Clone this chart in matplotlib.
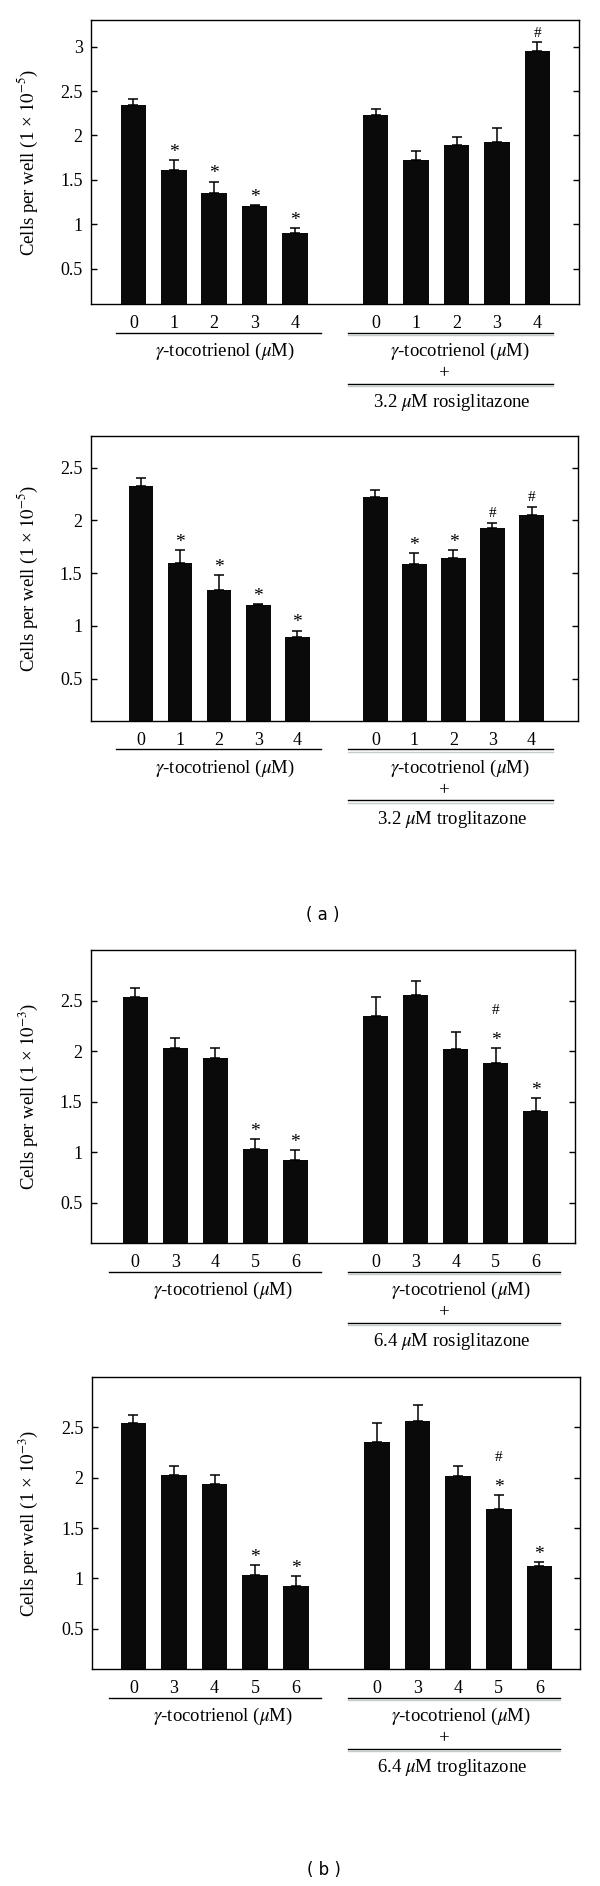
import numpy as np
import matplotlib.pyplot as plt
from matplotlib.lines import Line2D

plt.rcParams['font.family'] = ['Liberation Serif', 'DejaVu Serif']
plt.rcParams['mathtext.fontset'] = 'stix'

# ---- data ----
# (a) top: gamma-tocotrienol alone vs + 3.2 uM rosiglitazone
p1_doses = ['0', '1', '2', '3', '4']
p1_toco = [2.34, 1.605, 1.35, 1.20, 0.895]
p1_toco_err = [0.07, 0.115, 0.13, 0.01, 0.06]
p1_toco_sig = ['', '*', '*', '*', '*']
p1_combo = [2.23, 1.72, 1.89, 1.92, 2.95]
p1_combo_err = [0.07, 0.10, 0.09, 0.16, 0.10]
p1_combo_sig = ['', '', '', '', '#']
p1_yticks = [0.5, 1, 1.5, 2, 2.5, 3]

# (a) bottom: + 3.2 uM troglitazone
p2_doses = ['0', '1', '2', '3', '4']
p2_toco = [2.33, 1.60, 1.34, 1.20, 0.89]
p2_toco_err = [0.07, 0.115, 0.14, 0.005, 0.065]
p2_toco_sig = ['', '*', '*', '*', '*']
p2_combo = [2.22, 1.585, 1.64, 1.93, 2.05]
p2_combo_err = [0.07, 0.105, 0.075, 0.045, 0.08]
p2_combo_sig = ['', '*', '*', '#', '#']
p2_yticks = [0.5, 1, 1.5, 2, 2.5]

# (b) top: + 6.4 uM rosiglitazone
p3_doses = ['0', '3', '4', '5', '6']
p3_toco = [2.54, 2.03, 1.935, 1.03, 0.92]
p3_toco_err = [0.085, 0.095, 0.095, 0.10, 0.105]
p3_toco_sig = ['', '', '', '*', '*']
p3_combo = [2.35, 2.56, 2.025, 1.887, 1.408]
p3_combo_err = [0.19, 0.13, 0.165, 0.14, 0.13]
p3_combo_sig = ['', '', '', '*#', '*']
p3_yticks = [0.5, 1, 1.5, 2, 2.5]

# (b) bottom: + 6.4 uM troglitazone
p4_doses = ['0', '3', '4', '5', '6']
p4_toco = [2.54, 2.03, 1.94, 1.03, 0.925]
p4_toco_err = [0.08, 0.09, 0.09, 0.10, 0.10]
p4_toco_sig = ['', '', '', '*', '*']
p4_combo = [2.35, 2.56, 2.02, 1.69, 1.12]
p4_combo_err = [0.19, 0.16, 0.10, 0.14, 0.045]
p4_combo_sig = ['', '', '', '*#', '*']
p4_yticks = [0.5, 1, 1.5, 2, 2.5]

W, H = 600, 1886
fig = plt.figure(figsize=(6, 18.86), dpi=100)

# symbol size and baseline offset (points) above the error bar
SIG_STYLE = {'*': (14, 2.3), '#': (11, 4.0)}


def fig_line(x0, x1, y, color='black', lw=1.0):
    fig.add_artist(Line2D([x0 / W, x1 / W], [1 - y / H, 1 - y / H], color=color, lw=lw))


def fig_label(x, y, s, **kw):
    fig.text(x / W, 1 - y / H, s, ha='center', va='center', **kw)


def panel(box, xlim, ylim, yticks, doses, toco, toco_err, toco_sig,
          combo, combo_err, combo_sig, exponent, drug, g1, g2):
    left, top, right, bottom = box
    ax = fig.add_axes([left / W, 1 - bottom / H, (right - left) / W, (bottom - top) / H])
    x1 = np.arange(len(toco))
    x2 = x1 + 6
    for x, v, e, sig in [(x1, toco, toco_err, toco_sig), (x2, combo, combo_err, combo_sig)]:
        ax.bar(x, v, width=0.63, color='#0a0a0a')
        ax.errorbar(x, v, yerr=[np.zeros(len(v)), e], fmt='none', ecolor='black',
                    elinewidth=1.1, capsize=3.9, capthick=1.1)
        for xi, vi, ei, s in zip(x, v, e, sig):
            for k, ch in enumerate(s):
                size, off = SIG_STYLE[ch]
                ax.annotate(ch, (xi, vi + ei), xytext=(0, off + 20.5 * k),
                            textcoords='offset points', ha='center', va='baseline',
                            fontsize=size)
    ax.set_xlim(*xlim)
    ax.set_ylim(*ylim)
    ax.set_xticks(np.concatenate([x1, x2]), doses + doses)
    ax.tick_params(axis='x', length=0, pad=8, labelsize=13)
    ax.set_yticks(yticks, [f'{t:g}' for t in yticks])
    ax.tick_params(axis='y', direction='in', left=True, right=True, length=4.5,
                   width=1, labelsize=13, pad=6)
    for sp in ax.spines.values():
        sp.set_linewidth(1.0)
    ax.set_ylabel('Cells per well (1 × $10^{-%d}$)' % exponent, fontsize=13.5)
    ax.yaxis.set_label_coords((40 - left) / (right - left), 0.5)

    # group labels under the axes
    fig_line(g1[0], g1[1], bottom + 28.5)
    fig_line(g2[0], g2[1], bottom + 28.5)
    fig_line(g2[0], g2[1], bottom + 30.8, color='#c5cccc', lw=1.0)
    fig_label(g1[2], bottom + 47.5, r'$\gamma$-tocotrienol ($\mu$M)', fontsize=13.5)
    fig_label(g2[2], bottom + 47.5, r'$\gamma$-tocotrienol ($\mu$M)', fontsize=13.5)
    fig_label(444, bottom + 69.5, '+', fontsize=13.5)
    fig_line(g2[0], g2[1], bottom + 79.5)
    fig_line(g2[0], g2[1], bottom + 81.8, color='#c5cccc', lw=1.0)
    fig_label(452, bottom + 98.5, drug, fontsize=13.5)
    return ax


panel((91, 20, 578.5, 304), (-1.05, 11.02), (0.1, 3.3), p1_yticks, p1_doses,
      p1_toco, p1_toco_err, p1_toco_sig, p1_combo, p1_combo_err, p1_combo_sig,
      5, r'3.2 $\mu$M rosiglitazone', (116, 320.5, 225), (347.5, 552.5, 460))
panel((90.7, 436, 578, 720.7), (-1.29, 11.19), (0.1, 2.8), p2_yticks, p2_doses,
      p2_toco, p2_toco_err, p2_toco_sig, p2_combo, p2_combo_err, p2_combo_sig,
      5, r'3.2 $\mu$M troglitazone', (116, 320.5, 225), (347.5, 552.5, 460))
panel((90.7, 950, 575.4, 1243.3), (-1.11, 10.99), (0.1, 3.0), p3_yticks, p3_doses,
      p3_toco, p3_toco_err, p3_toco_sig, p3_combo, p3_combo_err, p3_combo_sig,
      3, r'6.4 $\mu$M rosiglitazone', (108.5, 320.5, 223), (348, 560, 461))
panel((92, 1377, 580, 1669), (-1.02, 11.0), (0.1, 3.0), p4_yticks, p4_doses,
      p4_toco, p4_toco_err, p4_toco_sig, p4_combo, p4_combo_err, p4_combo_sig,
      3, r'6.4 $\mu$M troglitazone', (108.5, 320.5, 223), (348, 560, 461))

fig_label(323, 915, '( a )', fontsize=12, family='DejaVu Sans')
fig_label(324, 1870, '( b )', fontsize=12, family='DejaVu Sans')

fig.savefig('out.png', dpi=100)
